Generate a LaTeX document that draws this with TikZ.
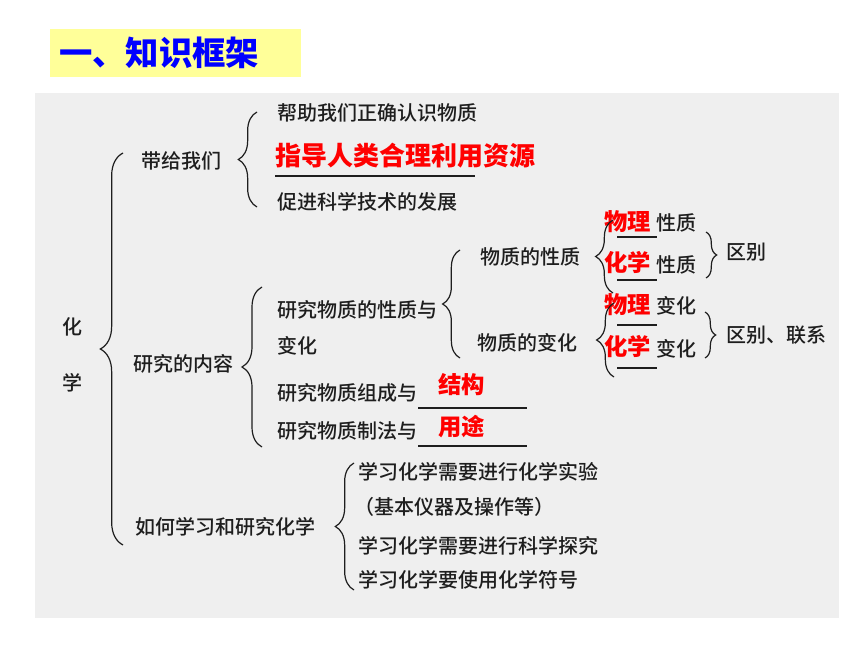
\documentclass[tikz,border=0pt]{standalone}
\usepackage{fontspec}
\setmainfont{Noto Sans CJK SC}
\newfontfamily\cjk{Noto Sans CJK SC}
\newfontfamily\cjkm{Noto Sans CJK SC}[UprightFont=* Medium]
\usetikzlibrary{decorations.pathreplacing}
\definecolor{panel}{RGB}{239,239,239}
\definecolor{titlebg}{RGB}{255,255,153}
\definecolor{titleblue}{RGB}{0,0,255}
\definecolor{redt}{RGB}{255,0,0}
\definecolor{ink}{RGB}{30,30,30}
\begin{document}
\begin{tikzpicture}[x=0.75pt,y=-0.75pt,
  txt/.style={anchor=west,inner sep=0pt,text=ink,font=\cjkm\fontsize{15}{18}\selectfont},
  redbig/.style={anchor=west,inner sep=0pt,text=redt,font=\cjk\bfseries\fontsize{19.5}{22}\selectfont},
  redsmall/.style={anchor=west,inner sep=0pt,text=redt,font=\cjk\bfseries\fontsize{17.5}{20}\selectfont},
  brc/.style={decorate,decoration={brace,amplitude=#1},draw=ink,line width=0.9pt},
  brc/.default=11pt,
  uline/.style={draw=ink,line width=1.1pt}]
\useasboundingbox (0,0) rectangle (860,645);
\fill[white] (0,0) rectangle (860,645);
\fill[panel] (35,93) rectangle (839,618);
\fill[titlebg] (50,29) rectangle (301,77);
\node[anchor=west,inner sep=0pt,text=titleblue,font=\cjk\bfseries\fontsize{25}{28}\selectfont] (title) at (59,53) {一、知识框架};

% left column
\node[txt] (hua) at (62,327) {化};
\node[txt] (xue) at (62,383) {学};
\node[txt] (daigei) at (141,161) {带给我们};
\node[txt] (yanjiu) at (133,364) {研究的内容};
\node[txt] (ruhe) at (135,527) {如何学习和研究化学};

% first group
\node[txt] (bz) at (277,113) {帮助我们正确认识物质};
\node[redbig] (zd) at (275,156) {指导人类合理利用资源};
\node[txt] (cj) at (277,202) {促进科学技术的发展};

% second group
\node[txt] (xz1) at (277,310) {研究物质的性质与};
\node[txt] (xz2) at (277,346) {变化};
\node[txt] (zc) at (277,393) {研究物质组成与};
\node[txt] (zf) at (277,431) {研究物质制法与};
\node[redsmall] (jg) at (438,385) {结构};
\node[redsmall] (yt) at (438,427) {用途};

\node[txt] (wzxz) at (480,257) {物质的性质};
\node[txt] (wzbh) at (477,343) {物质的变化};

\node[redsmall] (wl1) at (604,222) {物理};
\node[txt] (xzA) at (656,223) {性质};
\node[redsmall] (hx1) at (604,263) {化学};
\node[txt] (xzB) at (656,265) {性质};
\node[redsmall] (wl2) at (604,305) {物理};
\node[txt] (bhA) at (656,306) {变化};
\node[redsmall] (hx2) at (604,347) {化学};
\node[txt] (bhB) at (656,349) {变化};
\node[txt] (qb) at (726,252) {区别};
\node[txt] (qblx) at (726,335) {区别、联系};

% third group
\node[txt] (s1) at (358,472) {学习化学需要进行化学实验};
\node[txt] (s2) at (354,507) {（基本仪器及操作等）};
\node[txt] (s3) at (358,546) {学习化学需要进行科学探究};
\node[txt] (s4) at (358,580) {学习化学要使用化学符号};

% underlines
\draw[uline] (275,176) -- (475,176);
\draw[uline] (418,408) -- (527,408);
\draw[uline] (418,446) -- (527,446);
\draw[uline] (617,237) -- (657,237);
\draw[uline] (617,280) -- (657,280);
\draw[uline] (617,325) -- (657,325);
\draw[uline] (617,368) -- (657,368);

% braces
\coordinate (b0a) at (123,545); \coordinate (b0b) at (123,153);
\draw[brc=17pt] (b0a) -- (b0b);
\coordinate (b1a) at (257,207); \coordinate (b1b) at (257,112);
\draw[brc=14pt] (b1a) -- (b1b);
\coordinate (b2a) at (262,447); \coordinate (b2b) at (262,287);
\draw[brc=15pt] (b2a) -- (b2b);
\coordinate (b3a) at (460,358); \coordinate (b3b) at (460,250);
\draw[brc=13pt] (b3a) -- (b3b);
\coordinate (b4a) at (613,293); \coordinate (b4b) at (613,220);
\draw[brc=13pt] (b4a) -- (b4b);
\coordinate (b5a) at (614,377); \coordinate (b5b) at (614,303);
\draw[brc=13pt] (b5a) -- (b5b);
\coordinate (b6a) at (354,590); \coordinate (b6b) at (354,463);
\draw[brc=14pt] (b6a) -- (b6b);
\coordinate (b7a) at (706,232); \coordinate (b7b) at (706,278);
\draw[brc=8pt] (b7a) -- (b7b);
\coordinate (b8a) at (705,312); \coordinate (b8b) at (705,358);
\draw[brc=8pt] (b8a) -- (b8b);
\end{tikzpicture}
\end{document}
